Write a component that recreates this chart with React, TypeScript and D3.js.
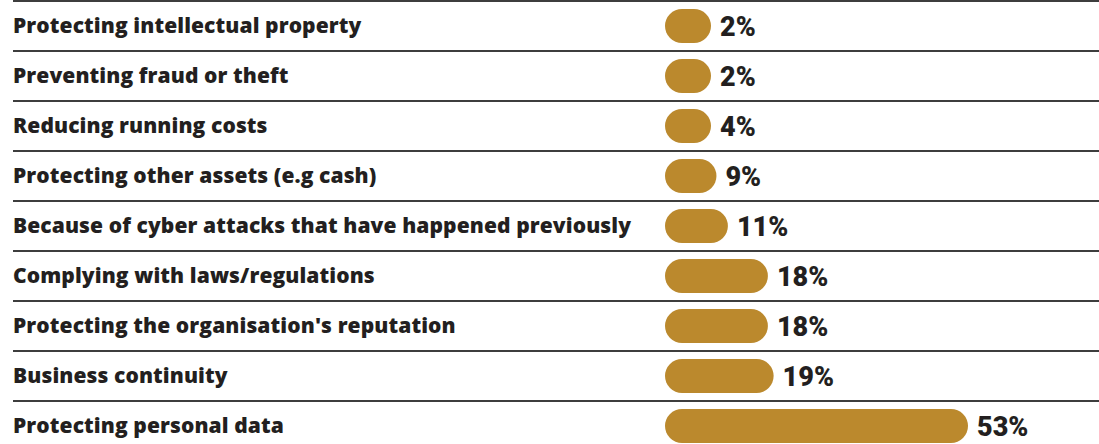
import React from "react";
import * as d3 from "d3";

const categories = [
  "Protecting intellectual property",
  "Preventing fraud or theft",
  "Reducing running costs",
  "Protecting other assets (e.g cash)",
  "Because of cyber attacks that have happened previously",
  "Complying with laws/regulations",
  "Protecting the organisation's reputation",
  "Business continuity",
  "Protecting personal data",
];
const values = [2, 2, 4, 9, 11, 18, 18, 19, 53];
const valueLabels = values.map((v) => `${v}%`);

const W = 1099;
const H = 444;
const BAR_X = 665;
const BAR_H = 34;
const MIN_W = 46;

export default function App() {
  const y = d3.scaleBand<string>().domain(categories).range([1, 451]).padding(0);
  const x = d3.scaleLinear().domain([0, 53]).range([0, 303]);
  const bw = y.bandwidth();
  return (
    <svg width={W} height={H} style={{ position: "absolute", left: 0, top: 0 }}>
      <rect width={W} height={H} fill="#ffffff" />
      {categories.map((c, i) => {
        const top = y(c)!;
        const cy = top + bw / 2;
        const w = Math.max(x(values[i]), MIN_W);
        return (
          <g key={c}>
            <line x1={13} x2={W} y1={top} y2={top} stroke="#3d3d3d" strokeWidth={2} />
            <text
              x={13}
              y={cy + 6.7}
              fontFamily="Open Sans"
              fontWeight={800}
              fontSize={21}
              letterSpacing={0.1}
              fill="#231f20"
            >
              {c}
            </text>
            <rect
              x={BAR_X}
              y={cy - BAR_H / 2}
              width={w}
              height={BAR_H}
              rx={BAR_H / 2}
              ry={BAR_H / 2}
              fill="#bb892d"
            />
            <text
              x={BAR_X + w + 9}
              y={cy + 9.7}
              fontFamily="Roboto"
              fontWeight={900}
              fontSize={27}
              fill="#231f20"
            >
              {valueLabels[i]}
            </text>
          </g>
        );
      })}
    </svg>
  );
}
